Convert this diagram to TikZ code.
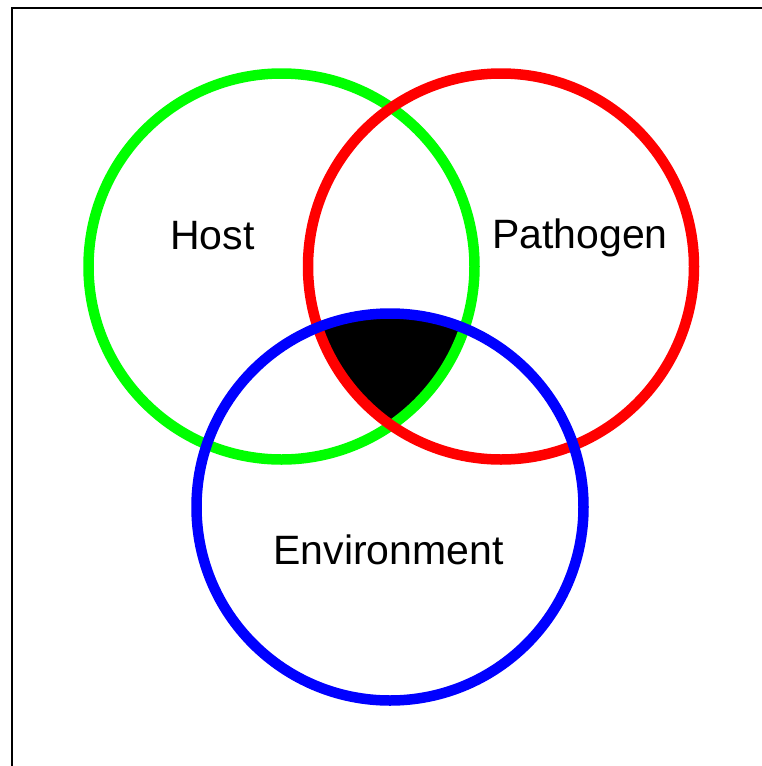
\documentclass[tikz,border=0pt]{standalone}
\usepackage{fontspec}
\setmainfont{Liberation Sans}
\usepackage{tikz}
\usetikzlibrary{positioning}
\definecolor{hostgreen}{RGB}{0,255,0}
\definecolor{pathred}{RGB}{255,0,0}
\definecolor{envblue}{RGB}{0,0,255}

\begin{document}
\begin{tikzpicture}[x=1pt, y=-1pt,
    ring/.style={line width=10.5pt},
    lbl/.style={anchor=base, inner sep=0pt, font=\fontsize{41}{49}\selectfont}]
    \useasboundingbox (0,0) rectangle (762,766);
    % frame
    \coordinate (fbl) at (11.5,766);
    \coordinate (ftl) at (11.5,8);
    \coordinate (ftr) at (762,8);
    \draw[line width=2pt] (fbl) -- (ftl) -- (ftr);
    % centres
    \coordinate (h) at (281.5,266.5);
    \coordinate (p) at (501,266.5);
    \coordinate (e) at (390,507);
    % common part
    \begin{scope}
        \clip (h) circle (193);
        \clip (p) circle (193);
        \fill[black] (e) circle (193.5);
    \end{scope}
    \draw[ring, hostgreen] (h) circle (193);
    \draw[ring, pathred] (p) circle (193);
    \draw[ring, envblue] (e) circle (193.5);
    % labels
    \node[lbl] (host) at (212.5,249.5) {Host};
    \node[lbl] (pathogen) at (580,248.5) {Pathogen};
    \node[lbl] (environment) at (388.5,564.5) {Environment};
\end{tikzpicture}
\end{document}
